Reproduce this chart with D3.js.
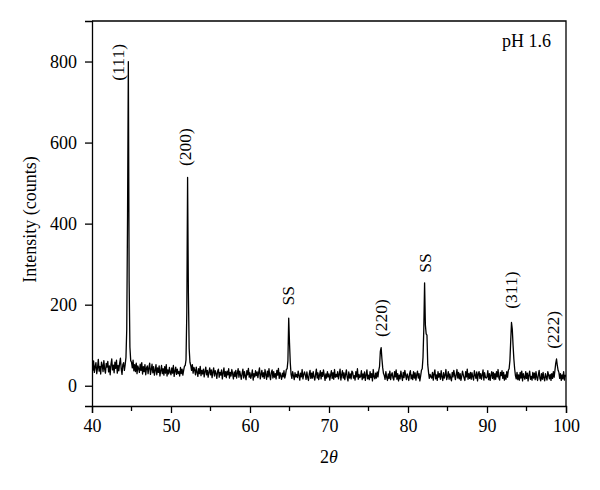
<!DOCTYPE html>
<html>
<head>
<meta charset="utf-8">
<script src="https://cdn.jsdelivr.net/npm/d3@7"></script>
<style>
  body { margin: 0; background: #fff; }
  svg { display: block; }
  text { font-family: "Liberation Serif", "Times New Roman", serif; fill: #000; }
</style>
</head>
<body>
<svg id="chart" width="600" height="490"></svg>
<script>
// 2θ sampling: start and step (degrees)
const thetaStart = 40;
const thetaStep = 0.1;

// Intensity (counts), one row per degree (10 samples), 40.0 … 100.0
const intensity = [
  52,38,61,33,47,57,30,44,65,36,   // 40
  48,29,58,50,35,62,41,31,55,46,   // 41
  60,34,49,27,53,66,39,51,32,58,   // 42
  43,63,31,50,37,56,68,41,28,52,   // 43
  57,38,52,70,140,420,800,260,95,62, // 44
  58,44,63,37,52,35,56,30,49,42,   // 45
  33,53,38,57,29,47,35,52,27,44,   // 46
  49,30,44,56,28,40,53,32,47,26,   // 47
  38,52,27,44,33,49,24,37,50,30,   // 48
  42,26,47,31,52,24,39,29,45,33,   // 49
  27,44,31,50,23,36,46,28,41,30,   // 50
  35,24,45,30,41,26,38,48,50,64,   // 51
  180,514,230,92,58,50,38,52,31,45, // 52
  39,27,46,33,23,42,30,48,25,38,   // 53
  29,41,22,35,46,27,38,21,33,44,   // 54
  27,39,20,34,44,24,37,30,18,36,   // 55
  41,21,33,26,39,17,31,44,23,35,   // 56
  20,36,27,42,19,33,24,40,29,17,   // 57
  34,23,38,19,31,42,21,36,26,16,   // 58
  30,41,19,35,24,15,37,27,43,21,   // 59
  32,18,26,39,14,30,22,37,25,34,   // 60
  20,33,44,17,27,38,22,32,18,40,   // 61
  27,16,36,22,42,25,15,33,39,19,   // 62
  35,21,30,17,38,26,43,18,32,24,   // 63
  16,31,22,37,19,27,40,42,62,167,  // 64
  106,56,28,18,35,25,15,32,22,28,  // 65
  20,36,25,14,31,22,40,17,28,34,   // 66
  26,16,34,21,13,29,38,18,31,19,   // 67
  35,22,14,28,41,19,32,15,26,37,   // 68
  17,33,23,39,26,13,29,19,35,22,   // 69
  29,14,26,37,18,32,16,40,21,28,   // 70
  22,35,17,28,41,14,26,37,19,32,   // 71
  15,28,39,21,12,34,19,29,17,36,   // 72
  33,19,25,14,35,22,42,16,28,20,   // 73
  23,37,15,29,19,34,13,26,39,17,   // 74
  26,15,35,20,30,12,40,22,17,31,   // 75
  19,34,22,38,48,85,94,66,44,30,   // 76
  25,16,35,21,13,29,18,36,15,27,   // 77
  32,19,14,35,22,39,16,30,12,26,   // 78
  17,36,23,13,33,20,38,26,15,29,   // 79
  22,13,30,37,17,27,15,35,19,32,   // 80
  14,27,36,19,30,12,24,38,42,70,   // 81
  140,254,150,128,125,52,33,18,28,22, // 82
  19,33,14,29,39,17,27,13,35,21,   // 83
  30,16,37,22,13,32,19,26,40,15,   // 84
  23,35,16,29,19,12,33,22,38,26,   // 85
  15,27,40,19,33,17,30,13,23,36,   // 86
  27,19,13,35,22,41,16,30,18,33,   // 87
  16,32,22,14,37,26,18,34,12,29,   // 88
  35,18,30,16,27,39,14,32,21,19,   // 89
  22,37,15,30,13,26,35,18,33,15,   // 90
  30,16,35,22,40,19,14,33,25,37,   // 91
  18,33,14,27,16,35,21,38,42,62,   // 92
  110,156,140,100,66,42,25,17,33,15, // 93
  27,14,33,19,36,12,30,21,16,35,   // 94
  18,31,12,26,36,16,23,14,33,19,   // 95
  31,15,35,21,13,27,38,18,12,30,   // 96
  16,33,19,12,30,22,14,35,26,17,   // 97
  28,13,30,18,35,21,38,55,66,50,   // 98
  38,33,18,30,13,27,17,35,14,26,   // 99
  22                               // 100
];

// Peak annotations: label, 2θ of label centre, intensity of label centre
const peakLabels = ["(111)", "(200)", "SS", "(220)", "SS", "(311)", "(222)"];
const peakLabelTheta = [43.3, 51.8, 64.8, 76.6, 82.15, 93.05, 98.35];
const peakLabelCounts = [798, 589, 222, 167, 303, 236, 138];

const xTicks = [40, 50, 60, 70, 80, 90, 100];
const xMinorTicks = [45, 55, 65, 75, 85, 95];
const yTicks = [0, 200, 400, 600, 800];

const margin = {left: 92, right: 34, top: 21, bottom: 84};
const W = 600, H = 490;
const svg = d3.select("#chart");

const x = d3.scaleLinear().domain([40, 100]).range([margin.left, W - margin.right]);
const y = d3.scaleLinear().domain([-50, 900]).range([H - margin.bottom, margin.top]);

const data = intensity.map((v, i) => ({t: thetaStart + i * thetaStep, v}));

// clip
svg.append("clipPath").attr("id", "clip").append("rect")
  .attr("x", margin.left).attr("y", margin.top)
  .attr("width", x(100) - x(40)).attr("height", y(-50) - y(900));

// frame (top and right)
svg.append("path")
  .attr("d", `M${x(40)},${y(900)}H${x(100)}V${y(-50)}`)
  .attr("fill", "none").attr("stroke", "#000").attr("stroke-width", 1.3);

// data line
svg.append("path")
  .datum(data)
  .attr("clip-path", "url(#clip)")
  .attr("fill", "none")
  .attr("stroke", "#000")
  .attr("stroke-width", 1.3)
  .attr("stroke-linejoin", "round")
  .attr("d", d3.line().x(d => x(d.t)).y(d => y(d.v)));

// x axis
const gx = svg.append("g").attr("transform", `translate(0,${y(-50)})`)
  .call(d3.axisBottom(x).tickValues(xTicks).tickFormat(d3.format("d")).tickSizeOuter(0).tickSize(7).tickPadding(6));
gx.append("g").selectAll("line").data(xMinorTicks).join("line")
  .attr("x1", d => x(d)).attr("x2", d => x(d)).attr("y1", 0).attr("y2", 5)
  .attr("stroke", "#000").attr("stroke-width", 1.3);

// y axis
const gy = svg.append("g").attr("transform", `translate(${x(40)},0)`)
  .call(d3.axisLeft(y).tickValues(yTicks).tickFormat(d3.format("d")).tickSizeOuter(0).tickSize(7).tickPadding(8));

[gx, gy].forEach(g => {
  g.select(".domain").attr("stroke-width", 1.3);
  g.selectAll(".tick line").attr("stroke-width", 1.3);
  g.selectAll(".tick text").attr("font-size", 18).attr("font-family", "Liberation Serif, serif");
});

// axis titles
svg.append("text")
  .attr("transform", `translate(30,${(y(-50) + y(900)) / 2 + 6}) rotate(-90)`)
  .attr("text-anchor", "middle").attr("dominant-baseline", "central")
  .attr("font-size", 18)
  .text("Intensity (counts)");

const xt = svg.append("text")
  .attr("x", 329).attr("y", 463)
  .attr("text-anchor", "middle").attr("font-size", 18);
xt.append("tspan").text("2");
xt.append("tspan").attr("font-style", "italic").text("θ");

// pH label
svg.append("text")
  .attr("x", 551).attr("y", 47)
  .attr("text-anchor", "end").attr("font-size", 18)
  .text("pH 1.6");

// peak labels
svg.append("g").selectAll("text").data(peakLabels).join("text")
  .attr("transform", (d, i) => `translate(${x(peakLabelTheta[i])},${y(peakLabelCounts[i])}) rotate(-90)`)
  .attr("text-anchor", "middle").attr("dominant-baseline", "central")
  .attr("font-size", 17.5)
  .text(d => d);
</script>
</body>
</html>
